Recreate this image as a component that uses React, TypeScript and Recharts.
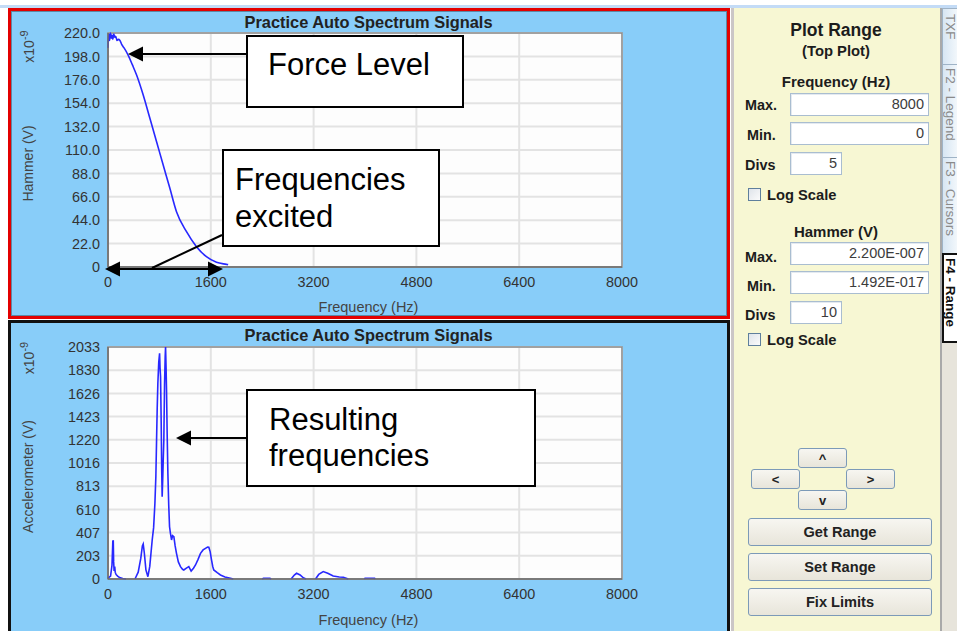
import React from "react";
import { CartesianGrid, Line, LineChart, ReferenceArea, XAxis, YAxis } from "recharts";

const FONT = "'Liberation Sans', Arial, sans-serif";

// shared frequency axis (Hz)
const freqTicks = [0, 1600, 3200, 4800, 6400, 8000];

// top plot: hammer auto spectrum (x10^-9 V)
const hammerTicks = [0, 22, 44, 66, 88, 110, 132, 154, 176, 198, 220];
const hammerFreq = [0, 12, 25, 38, 50, 62, 75, 90, 105, 120, 140, 160, 186, 215, 250, 315, 380, 445, 548, 652, 756, 859, 963, 1066, 1222, 1377, 1532, 1688, 1843, 1870];
const hammerLevel = [206, 219, 213, 220, 215, 218, 214, 219, 216, 217, 213, 214, 213, 209, 206, 199, 190, 180.5, 161.7, 139.8, 117.8, 95.9, 74, 52, 33.2, 19.1, 9.7, 4.4, 2.5, 2.2];

// bottom plot: accelerometer auto spectrum (x10^-9 V), null = nothing drawn
const accelTicks = [0, 203, 407, 610, 813, 1016, 1220, 1423, 1626, 1830, 2033];
const accelFreq = [0, 40, 62, 75, 82, 88, 95, 105, 112, 125, 150, 180, 230, 280, 300, 420, 470, 510, 535, 548, 565, 590, 621, 650, 688, 710, 730, 745, 756, 766, 776, 790, 803, 810, 818, 828, 836, 843, 852, 860, 869, 880, 890, 896, 904, 911, 920, 932, 945, 958, 972, 989, 1005, 1025, 1045, 1066, 1095, 1128, 1160, 1180, 1220, 1258, 1280, 1294, 1330, 1362, 1400, 1440, 1480, 1517, 1550, 1569, 1590, 1611, 1630, 1646, 1700, 1750, 1820, 1906, 1950, 2000, 2400, 2420, 2520, 2540, 2600, 2850, 2900, 2935, 2990, 3040, 3083, 3150, 3230, 3280, 3350, 3420, 3505, 3600, 3663, 3740, 3800, 3990, 4000, 4150, 4160];
const accelLevel = [8, 25, 120, 330, 340, 150, 70, 110, 60, 40, 25, 12, 5, 0, null, 0, 60, 180, 290, 307, 230, 80, 20, 110, 342, 450, 663, 900, 1218, 1500, 1715, 1900, 1978, 1850, 1773, 1364, 950, 721, 880, 1050, 1218, 1700, 1950, 2033, 1850, 1656, 1300, 926, 650, 458, 400, 342, 380, 371, 290, 225, 150, 108, 85, 79, 95, 108, 85, 70, 95, 123, 170, 225, 255, 269, 280, 278, 240, 167, 110, 79, 55, 35, 18, 6, 0, null, 0, 6, 6, 0, null, 0, 35, 50, 35, 10, 0, null, 0, 40, 65, 50, 26, 18, 15, 0, null, 0, 6, 6, 0];

type Row = { f: number; v: number | null };

const hammerRows: Row[] = hammerFreq.map((f, i) => ({ f, v: hammerLevel[i] }));
const accelRows: Row[] = accelFreq.map((f, i) => ({ f, v: accelLevel[i] }));

const tickStyle = { fill: "#333", fontSize: 14.4, fontFamily: FONT };

type PlotProps = {
  rows: Row[];
  yMax: number;
  yTicks: number[];
  fmt: (v: number) => string;
  top: number;
  marginTop: number;
  curve: "linear" | "monotone";
};

function SpectrumPlot({ rows, yMax, yTicks, fmt, top, marginTop, curve }: PlotProps) {
  return (
    <div style={{ position: "absolute", left: 10, top }}>
      <LineChart
        width={718}
        height={304}
        data={rows}
        margin={{ top: marginTop, right: 106, bottom: 19, left: 38 }}
      >
        <CartesianGrid stroke="#e3e3e3" strokeWidth={2} fill="#fdfdfd" />
        <XAxis
          dataKey="f"
          type="number"
          domain={[0, 8000]}
          ticks={freqTicks}
          tickLine={false}
          tickMargin={4}
          height={30}
          axisLine={{ stroke: "#6e6e6e", strokeWidth: 1.5 }}
          tick={tickStyle}
        />
        <YAxis
          type="number"
          domain={[0, yMax]}
          ticks={yTicks}
          tickFormatter={fmt}
          tickLine={false}
          width={60}
          axisLine={{ stroke: "#6e6e6e", strokeWidth: 1.5 }}
          tick={tickStyle}
        />
        <ReferenceArea x1={0} x2={8000} y1={0} y2={yMax} fill="none" fillOpacity={0} stroke="#8c8c8c" strokeWidth={1.5} />
        <Line
          type={curve}
          dataKey="v"
          stroke="#2828ff"
          strokeWidth={1.6}
          dot={false}
          connectNulls={false}
          isAnimationActive={false}
        />
      </LineChart>
    </div>
  );
}

function baseTop(baseline: number, size: number) {
  return baseline - 0.847 * size;
}

function PanelText({ x, y, size, text, bold = true, center = false }: { x?: number; y: number; size: number; text: string; bold?: boolean; center?: boolean }) {
  return (
    <div
      style={{
        position: "absolute",
        left: center ? 736 : x,
        width: center ? 200 : undefined,
        textAlign: center ? "center" : "left",
        top: baseTop(y, size),
        fontSize: size,
        lineHeight: 1,
        fontFamily: FONT,
        fontWeight: bold ? 700 : 400,
        color: "#1c1c1c",
        whiteSpace: "nowrap",
      }}
    >
      {text}
    </div>
  );
}

function InputBox({ x, y, w, h, value }: { x: number; y: number; w: number; h: number; value: string }) {
  return (
    <div
      style={{
        position: "absolute",
        left: x,
        top: y,
        width: w,
        height: h,
        boxSizing: "border-box",
        background: "#fff",
        border: "1px solid #a9bdd0",
        boxShadow: "inset 1px 1px 0 #e4eaf0",
        fontFamily: FONT,
        fontSize: 14.5,
        lineHeight: `${h - 2}px`,
        color: "#3c3c3c",
        textAlign: "right",
        paddingRight: 4,
      }}
    >
      {value}
    </div>
  );
}

function CheckRow({ y }: { y: number }) {
  return (
    <>
      <div
        style={{
          position: "absolute",
          left: 748,
          top: y,
          width: 13,
          height: 13,
          boxSizing: "border-box",
          border: "1px solid #5f7f9c",
          background: "linear-gradient(135deg, #dfe4ea, #fbfbfb)",
        }}
      />
      <PanelText x={767} y={y + 12} size={14.7} text="Log Scale" />
    </>
  );
}

function Btn({ x, y, w, h, text, size = 14.6 }: { x: number; y: number; w: number; h: number; text: string; size?: number }) {
  return (
    <div
      style={{
        position: "absolute",
        left: x,
        top: y,
        width: w,
        height: h,
        boxSizing: "border-box",
        border: "1px solid #7c9ab8",
        borderRadius: 3,
        background: "linear-gradient(#f7f6f1, #e8e5da)",
        fontFamily: FONT,
        fontWeight: 700,
        fontSize: size,
        color: "#222",
        display: "flex",
        alignItems: "center",
        justifyContent: "center",
      }}
    >
      {text}
    </div>
  );
}

function Tab({ y, h, text, active = false, pad = 3 }: { y: number; h: number; text: string; active?: boolean; pad?: number }) {
  return (
    <div
      style={{
        position: "absolute",
        left: 942,
        top: y,
        width: 15,
        height: h,
        boxSizing: "border-box",
        overflow: "hidden",
        background: active ? "#fff" : "linear-gradient(90deg, #d7e6f3, #f2f7fb)",
        border: active ? "2px solid #111" : "1px solid #9fb3c6",
        borderRight: "none",
        writingMode: "vertical-rl",
        fontFamily: FONT,
        fontSize: 13.5,
        fontWeight: active ? 700 : 400,
        color: active ? "#111" : "#8a8a8a",
        lineHeight: "13px",
        paddingTop: pad,
        whiteSpace: "nowrap",
      }}
    >
      {text}
    </div>
  );
}

function ArrowHead({ tipX, y, dir }: { tipX: number; y: number; dir: 1 | -1 }) {
  const base = tipX + dir * 15;
  return <polygon points={`${tipX},${y} ${base},${y - 7.5} ${base},${y + 7.5}`} fill="#000" />;
}

function Overlay() {
  const title = "Practice Auto Spectrum Signals";
  return (
    <svg
      width={957}
      height={631}
      style={{ position: "absolute", left: 0, top: 0, pointerEvents: "none" }}
      fontFamily={FONT}
    >
      {/* plot titles and axis names */}
      <text x={368.5} y={27.5} textAnchor="middle" fontWeight="bold" fontSize={16.4} fill="#222">{title}</text>
      <text x={368.5} y={341} textAnchor="middle" fontWeight="bold" fontSize={16.4} fill="#222">{title}</text>
      <text x={368.5} y={312} textAnchor="middle" fontSize={14.5} fill="#444">Frequency (Hz)</text>
      <text x={368.5} y={625} textAnchor="middle" fontSize={14.5} fill="#444">Frequency (Hz)</text>
      <text transform="translate(33,163.5) rotate(-90)" textAnchor="middle" fontSize={14} fill="#444">Hammer (V)</text>
      <text transform="translate(33,476.5) rotate(-90)" textAnchor="middle" fontSize={14} fill="#444">Accelerometer (V)</text>
      <text transform="translate(34,46.5) rotate(-90)" textAnchor="middle" fontSize={14} fill="#444">
        x10<tspan dy={-6} fontSize={11}>-9</tspan>
      </text>
      <text transform="translate(34,358) rotate(-90)" textAnchor="middle" fontSize={14} fill="#444">
        x10<tspan dy={-6} fontSize={11}>-9</tspan>
      </text>

      {/* callouts */}
      <g stroke="#000" strokeWidth={2}>
        <line x1={247} y1={54} x2={140} y2={54} />
        <line x1={222} y1={235} x2={152} y2={268} />
        <line x1={118} y1={269} x2={210} y2={269} />
        <line x1={247} y1={438} x2={188} y2={438} />
      </g>
      <ArrowHead tipX={128} y={54} dir={1} />
      <ArrowHead tipX={105} y={269} dir={1} />
      <ArrowHead tipX={223} y={269} dir={-1} />
      <ArrowHead tipX={176} y={438} dir={1} />

      <rect x={247} y={36} width={216} height={71} fill="#fff" stroke="#000" strokeWidth={2} />
      <text x={268} y={75} fontSize={31} fill="#000">Force Level</text>

      <rect x={223} y={150} width={216} height={96} fill="#fff" stroke="#000" strokeWidth={2} />
      <text x={235} y={190} fontSize={31} fill="#000">Frequencies</text>
      <text x={235} y={227} fontSize={31} fill="#000">excited</text>

      <rect x={247} y={390} width={288} height={96} fill="#fff" stroke="#000" strokeWidth={2} />
      <text x={269} y={430} fontSize={31} fill="#000">Resulting</text>
      <text x={269} y={466} fontSize={31} fill="#000">frequencies</text>
    </svg>
  );
}

export default function App() {
  return (
    <div style={{ position: "fixed", left: 0, top: 0, width: 957, height: 631, background: "#fff", overflow: "hidden" }}>
      <div style={{ position: "absolute", left: 0, top: 5, width: 957, height: 3, background: "#c3dbf6" }} />

      {/* plot frames */}
      <div style={{ position: "absolute", left: 8, top: 8, width: 722, height: 311, boxSizing: "border-box", border: "3px solid #e30000", background: "#88cdf9" }}>
        <div style={{ position: "absolute", inset: 0, border: "1px solid #5f87a3" }} />
      </div>
      <div style={{ position: "absolute", left: 8, top: 320, width: 722, height: 314, boxSizing: "border-box", border: "3px solid #111", background: "#88cdf9" }} />

      <SpectrumPlot rows={hammerRows} yMax={220} yTicks={hammerTicks} fmt={(v) => (v === 0 ? "0" : v.toFixed(1))} top={12} marginTop={21} curve="monotone" />
      <SpectrumPlot rows={accelRows} yMax={2033} yTicks={accelTicks} fmt={(v) => String(v)} top={324} marginTop={23} curve="linear" />

      {/* range panel */}
      <div style={{ position: "absolute", left: 731, top: 8, width: 211, height: 623, background: "#f7f7d3", borderLeft: "3px solid #cbc6c6", boxSizing: "border-box" }} />
      <div style={{ position: "absolute", left: 940, top: 8, width: 17, height: 623, background: "#e7e4db", borderLeft: "2px solid #a9a9a9", boxSizing: "border-box" }} />

      <PanelText center y={37} size={17.5} text="Plot Range" />
      <PanelText center y={57} size={14.8} text="(Top Plot)" />
      <PanelText center y={87} size={15} text="Frequency (Hz)" />
      <PanelText x={745} y={110} size={14.4} text="Max." />
      <InputBox x={790} y={93} w={139} h={23} value="8000" />
      <PanelText x={747} y={140} size={14.4} text="Min." />
      <InputBox x={790} y={122} w={139} h={23} value="0" />
      <PanelText x={745} y={170} size={14.4} text="Divs" />
      <InputBox x={790} y={152} w={52} h={23} value="5" />
      <CheckRow y={188} />

      <PanelText center y={237} size={15} text="Hammer (V)" />
      <PanelText x={745} y={262} size={14.4} text="Max." />
      <InputBox x={790} y={242} w={139} h={23} value="2.200E-007" />
      <PanelText x={747} y={291} size={14.4} text="Min." />
      <InputBox x={790} y={271} w={139} h={23} value="1.492E-017" />
      <PanelText x={745} y={320} size={14.4} text="Divs" />
      <InputBox x={790} y={301} w={52} h={23} value="10" />
      <CheckRow y={333} />

      <Btn x={798} y={448} w={49} h={20} text="^" size={13} />
      <Btn x={751} y={469} w={49} h={20} text="<" size={13} />
      <Btn x={846} y={469} w={49} h={20} text=">" size={13} />
      <Btn x={798} y={490} w={49} h={20} text="v" size={13} />
      <Btn x={748} y={518} w={184} h={28} text="Get Range" />
      <Btn x={748} y={553} w={184} h={28} text="Set Range" />
      <Btn x={748} y={588} w={184} h={28} text="Fix Limits" />

      <Tab y={8} h={57} text="TXF" pad={5} />
      <Tab y={64} h={94} text="F2 - Legend" />
      <Tab y={157} h={97} text="F3 - Cursors" />
      <Tab y={253} h={90} text="F4 - Range" active />

      <Overlay />
    </div>
  );
}
